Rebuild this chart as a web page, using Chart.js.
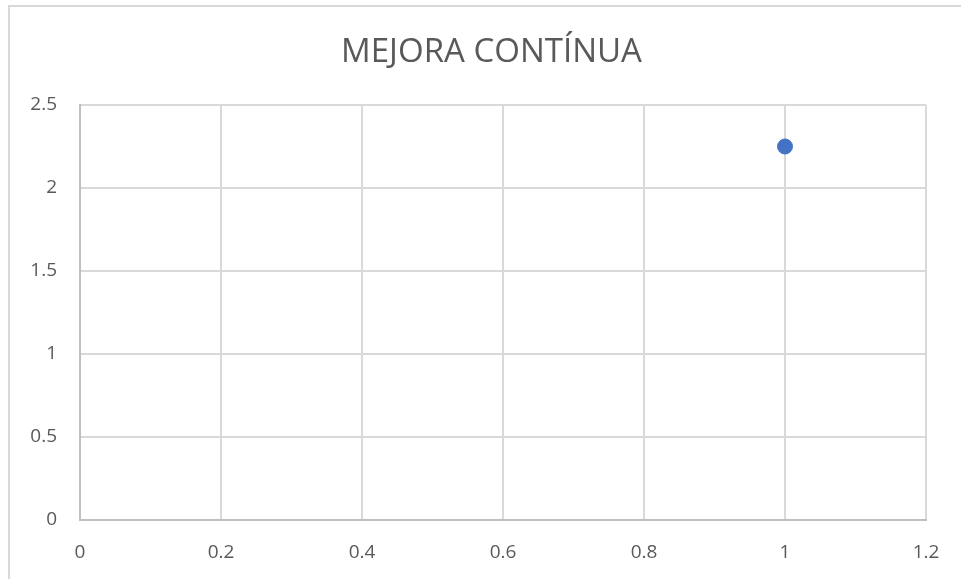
<!DOCTYPE html>
<html>
<head>
<meta charset="utf-8">
<script src="https://cdn.jsdelivr.net/npm/chart.js@4"></script>
<style>
  html, body { margin: 0; padding: 0; background: #ffffff; }
  #wrap { position: relative; width: 961px; height: 579px; }
</style>
</head>
<body>
<div id="wrap"><canvas id="chart" width="961" height="579"></canvas></div>
<script>
// Series data
const xValues = [1];
const yValues = [2.25];

// Axis tick labels
const xTickLabels = ['0', '0.2', '0.4', '0.6', '0.8', '1', '1.2'];
const yTickLabels = ['0', '0.5', '1', '1.5', '2', '2.5'];

const chartTitle = 'MEJORA CONTÍNUA';
const seriesName = 'Serie 1';

const points = xValues.map((x, i) => ({ x: x, y: yValues[i] }));

// Light frame around the chart object
const framePlugin = {
  id: 'frame',
  beforeDraw(chart) {
    const ctx = chart.ctx;
    ctx.save();
    ctx.fillStyle = '#ffffff';
    ctx.fillRect(0, 0, chart.width, chart.height);
    ctx.strokeStyle = '#d9d9d9';
    ctx.lineWidth = 2;
    ctx.beginPath();
    ctx.moveTo(9, chart.height);
    ctx.lineTo(9, 6);
    ctx.lineTo(chart.width, 6);
    ctx.stroke();
    ctx.restore();
  }
};

// Center the title over the whole frame rather than the padded layout box
const titleCenterPlugin = {
  id: 'titleCenter',
  afterLayout(chart) {
    const t = chart.titleBlock;
    if (t) {
      t.left = 22;
      t.right = chart.width;
      t.width = t.right - t.left;
    }
  }
};

const tickFont = { family: "'Open Sans', 'Liberation Sans', sans-serif", size: 19 };

new Chart(document.getElementById('chart'), {
  type: 'scatter',
  data: {
    datasets: [{
      label: seriesName,
      data: points,
      backgroundColor: '#4472C4',
      borderColor: '#4472C4',
      pointRadius: 7.5,
      pointHoverRadius: 7.5
    }]
  },
  options: {
    responsive: false,
    animation: false,
    layout: { padding: { left: 0, right: 35, top: 0, bottom: 0 } },
    plugins: {
      legend: { display: false },
      tooltip: { enabled: false },
      title: {
        display: true,
        text: chartTitle,
        color: '#595959',
        font: { family: "'Open Sans', 'Liberation Sans', sans-serif", size: 33, weight: 'normal' },
        padding: { top: 33, bottom: 32.4 }
      }
    },
    scales: {
      x: {
        type: 'linear',
        min: 0,
        max: 1.2,
        ticks: {
          stepSize: 0.2,
          color: '#595959',
          font: tickFont,
          padding: 21,
          maxRotation: 0,
          callback: (v, i) => xTickLabels[i]
        },
        grid: { color: '#d9d9d9', lineWidth: 2, drawTicks: false },
        border: { color: '#bfbfbf', width: 2 },
        afterFit(scale) { scale.height = 59; }
      },
      y: {
        type: 'linear',
        min: 0,
        max: 2.5,
        ticks: {
          stepSize: 0.5,
          color: '#595959',
          font: tickFont,
          padding: 23,
          callback: (v, i) => yTickLabels[i]
        },
        grid: { color: '#d9d9d9', lineWidth: 2, drawTicks: false },
        border: { color: '#bfbfbf', width: 2 },
        afterFit(scale) { scale.width = 80; }
      }
    }
  },
  plugins: [framePlugin, titleCenterPlugin]
});
</script>
</body>
</html>
